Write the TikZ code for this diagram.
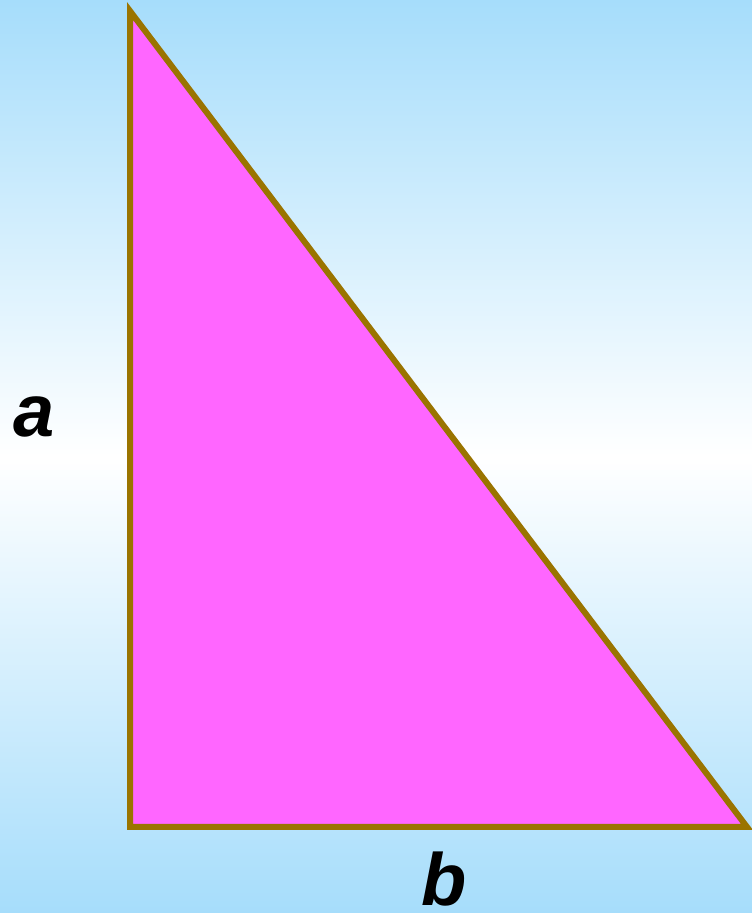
\documentclass[tikz,border=0pt]{standalone}
\usepackage{fontspec}
\setmainfont{Liberation Sans}
\usepackage{xcolor}
\definecolor{skyblue}{HTML}{A6DDFB}
\definecolor{pinkfill}{HTML}{FF66FF}
\definecolor{olive}{HTML}{9A7400}
\tikzset{triside/.style={draw=olive, line width=6pt, fill=pinkfill, miter limit=20},
  sidelabel/.style={font=\fontsize{74}{80}\selectfont\bfseries\itshape, inner sep=0pt, anchor=base}}

\begin{document}
\begin{tikzpicture}[x=1pt, y=1pt]
% background
\useasboundingbox (0,0) rectangle (752,913);
\shade[top color=skyblue, bottom color=skyblue, middle color=white] (0,0) rectangle (752,913);
% triangle
\coordinate (top) at (130,902);
\coordinate (corner) at (130,86);
\coordinate (right) at (747,86);
\draw[triside] (top) -- (corner) -- (right) -- cycle;
% labels
\node[sidelabel] (la) at (34,476) {a};
\node[sidelabel] (lb) at (444,8) {b};
\end{tikzpicture}
\end{document}
